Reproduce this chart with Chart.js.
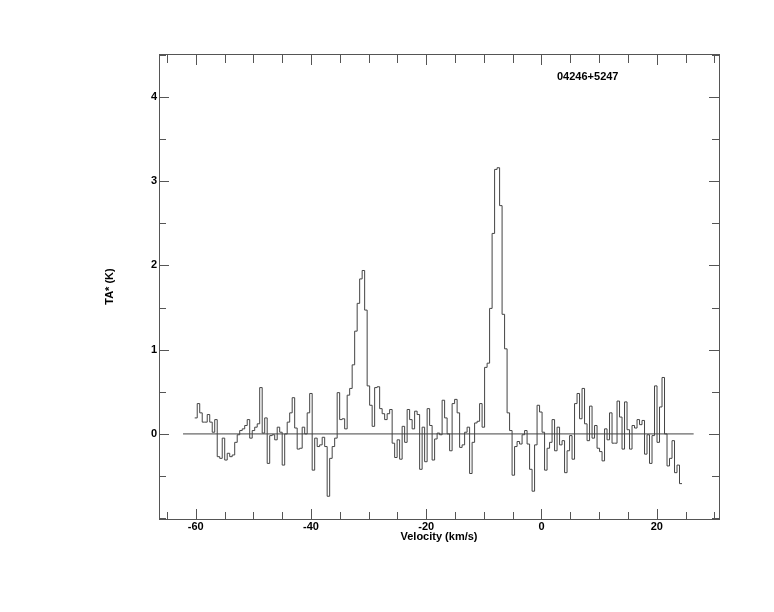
<!DOCTYPE html>
<html>
<head>
<meta charset="utf-8">
<script src="https://cdn.jsdelivr.net/npm/chart.js@4"></script>
<style>
body { margin: 0; background: #fff; }
</style>
</head>
<body>
<canvas id="spec" width="774" height="612"></canvas>
<script>
var sourceName = "04246+5247";
var velStart = -60.17;   // left edge of first channel (km/s)
var velStep = 0.4336;    // channel width (km/s)
// antenna temperature per channel
var ta = [
  0.19, 0.36, 0.25, 0.14, 0.14, 0.23, 0.14, 0.02, 0.17, -0.27,
  -0.29, -0.05, -0.31, -0.23, -0.27, -0.25, -0.10, -0.01, 0.04, 0.06,
  0.10, 0.17, -0.05, 0.04, 0.08, 0.12, 0.55, 0.01, 0.19, -0.35,
  -0.02, -0.01, -0.07, 0.08, 0.02, -0.37, 0.00, 0.14, 0.25, 0.43,
  0.07, -0.18, -0.17, 0.08, 0.00, 0.25, 0.48, -0.43, -0.05, -0.15,
  -0.13, -0.04, -0.15, -0.74, -0.29, -0.15, -0.05, 0.49, 0.17, 0.18,
  0.06, 0.46, 0.54, 0.82, 1.22, 1.55, 1.84, 1.94, 1.47, 0.57,
  0.34, 0.09, 0.55, 0.56, 0.30, 0.24, 0.17, 0.24, 0.29, -0.11,
  -0.28, -0.07, -0.30, 0.09, -0.10, 0.29, 0.17, 0.06, 0.27, 0.23,
  -0.42, 0.08, -0.33, 0.30, 0.10, -0.31, -0.06, 0.01, -0.01, 0.40,
  0.19, 0.00, -0.20, 0.36, 0.41, 0.25, -0.16, -0.13, 0.02, 0.08,
  -0.47, -0.10, 0.13, 0.15, 0.36, 0.08, 0.79, 0.84, 1.49, 2.38,
  3.14, 3.16, 2.71, 1.42, 1.01, 0.25, 0.04, -0.49, -0.15, -0.09,
  -0.12, -0.01, 0.04, -0.12, -0.42, -0.68, -0.13, 0.34, 0.26, 0.02,
  -0.43, -0.17, -0.10, 0.17, -0.20, 0.08, -0.13, -0.08, -0.46, -0.20,
  -0.02, -0.30, 0.36, 0.48, 0.18, 0.54, 0.12, -0.08, 0.33, -0.05,
  0.10, -0.17, -0.21, -0.32, 0.06, -0.07, 0.25, -0.11, -0.11, 0.39,
  0.20, -0.18, 0.38, 0.05, -0.18, 0.10, 0.07, 0.17, 0.11, 0.16,
  -0.24, -0.01, -0.35, -0.02, 0.57, -0.10, 0.32, 0.67, 0.00, -0.38,
  -0.29, -0.08, -0.46, -0.37, -0.59
];
var baseline = [[-62.2, 0], [26.4, 0]];
var xRange = [-66.37, 30.8];
var yRange = [-1.01, 4.51];
var xLabelled = [-60, -40, -20, 0, 20];
var yLabelled = [0, 1, 2, 3, 4];

// step points at channel edges, last value repeated to close the last channel
var pts = [];
for (let i = 0; i <= ta.length; i++) {
  pts.push({ x: velStart + i * velStep, y: ta[Math.min(i, ta.length - 1)] });
}
var base = baseline.map(function(p) { return { x: p[0], y: p[1] }; });

var FONT = '"Liberation Sans", Arial, sans-serif';

function makeTicks(lo, hi, step) {
  var out = [];
  for (var v = Math.ceil(lo / step) * step; v <= hi + 1e-9; v += step) {
    out.push({ value: Math.round(v * 100) / 100 });
  }
  return out;
}

// frame plus inward ticks on all four sides, and the source name
var frame = {
  id: 'frame',
  afterDraw: function(chart) {
    var ctx = chart.ctx, a = chart.chartArea;
    var xs = chart.scales.x, ys = chart.scales.y;
    ctx.save();
    ctx.strokeStyle = '#555';
    ctx.lineWidth = 1;
    ctx.strokeRect(Math.round(a.left) + 0.5, Math.round(a.top) + 0.5,
                   Math.round(a.right - a.left), Math.round(a.bottom - a.top));
    ctx.beginPath();
    xs.ticks.forEach(function(t) {
      var px = Math.round(xs.getPixelForValue(t.value)) + 0.5;
      var major = xLabelled.indexOf(t.value) >= 0;
      ctx.moveTo(px, a.bottom); ctx.lineTo(px, a.bottom - (major ? 10 : 7));
      ctx.moveTo(px, a.top); ctx.lineTo(px, a.top + (major ? 11 : 9));
    });
    ys.ticks.forEach(function(t) {
      var py = Math.round(ys.getPixelForValue(t.value)) + 0.5;
      var len = yLabelled.indexOf(t.value) >= 0 ? 10 : 7;
      ctx.moveTo(a.left, py); ctx.lineTo(a.left + len, py);
      ctx.moveTo(a.right, py); ctx.lineTo(a.right - len, py);
    });
    ctx.stroke();
    ctx.fillStyle = '#000';
    ctx.font = 'bold 11px ' + FONT;
    ctx.textBaseline = 'middle';
    ctx.textAlign = 'left';
    ctx.fillText(sourceName, a.right - 162, 76.5);
    ctx.restore();
  }
};

var ctx = document.getElementById('spec').getContext('2d');
var chart = new Chart(ctx, {
  type: 'line',
  data: {
    datasets: [{
      label: sourceName,
      data: pts,
      stepped: true,
      borderColor: '#444',
      borderWidth: 1,
      pointRadius: 0,
      fill: false
    }, {
      label: 'baseline',
      data: base,
      borderColor: '#444',
      borderWidth: 1,
      pointRadius: 0,
      fill: false
    }]
  },
  options: {
    responsive: false,
    animation: false,
    devicePixelRatio: 1,
    layout: { padding: { left: 0, right: 55, top: 54, bottom: 0 } },
    plugins: { legend: { display: false }, tooltip: { enabled: false } },
    scales: {
      x: {
        type: 'linear',
        min: xRange[0], max: xRange[1],
        afterBuildTicks: function(s) { s.ticks = makeTicks(xRange[0], xRange[1], 5); },
        afterFit: function(s) { s.height = 93; },
        grid: { display: false, drawTicks: false },
        border: { display: false },
        ticks: {
          autoSkip: false, maxRotation: 0, padding: 1, color: '#000',
          font: { family: FONT, size: 11, weight: 'bold' },
          callback: function(v) { return xLabelled.indexOf(v) >= 0 ? String(v) : ''; }
        },
        title: {
          display: true, text: 'Velocity (km/s)', color: '#000',
          font: { family: FONT, size: 11, weight: 'bold' },
          padding: { top: 0, bottom: 68.4 }
        }
      },
      y: {
        min: yRange[0], max: yRange[1],
        afterBuildTicks: function(s) { s.ticks = makeTicks(yRange[0], yRange[1], 0.5); },
        afterFit: function(s) { s.width = 159; },
        grid: { display: false, drawTicks: false },
        border: { display: false },
        ticks: {
          autoSkip: false, padding: 2, color: '#000',
          font: { family: FONT, size: 11, weight: 'bold' },
          callback: function(v) { return yLabelled.indexOf(v) >= 0 ? String(v) : ''; }
        },
        title: {
          display: true, text: 'TA* (K)', color: '#000',
          font: { family: FONT, size: 11, weight: 'bold' },
          padding: { top: 103.4, bottom: 0 }
        }
      }
    }
  },
  plugins: [frame]
});
</script>
</body>
</html>
